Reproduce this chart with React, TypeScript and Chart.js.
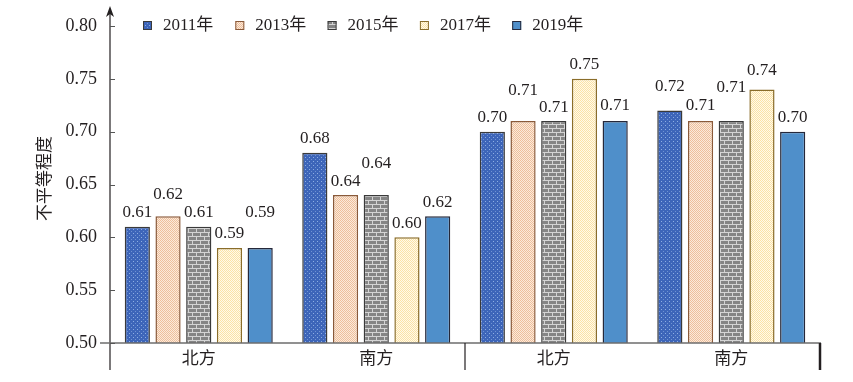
import React, { useEffect, useRef } from "react";
import { Chart, registerables } from "chart.js";

Chart.register(...registerables);

const categories = ["北方", "南方", "北方", "南方"];
const seriesNames = ["2011年", "2013年", "2015年", "2017年", "2019年"];
const v2011 = [0.61, 0.68, 0.7, 0.72];
const v2013 = [0.62, 0.64, 0.71, 0.71];
const v2015 = [0.61, 0.64, 0.71, 0.71];
const v2017 = [0.59, 0.6, 0.75, 0.74];
const v2019 = [0.59, 0.62, 0.71, 0.7];
const yTicks = [0.5, 0.55, 0.6, 0.65, 0.7, 0.75, 0.8];
const yTitle = "不平等程度";

// extra lift (px) of each value label, to mimic staggered labels of the original
const lift2011 = [0, 0, 0, 10];
const lift2013 = [8, 0, 17, 2];
const lift2015 = [0, 18, 0, 20];
const lift2017 = [0, 0, 0, 5];
const lift2019 = [21, 0, 2, 0];

const FONT = "'Liberation Serif', 'Noto Sans CJK SC', serif";
const TEXT = "#231f20";

function makePattern(kind: number): CanvasPattern | string {
  const c = document.createElement("canvas");
  const g = c.getContext("2d")!;
  if (kind === 0) {
    c.width = 4; c.height = 4;
    g.fillStyle = "#3d65b9"; g.fillRect(0, 0, 4, 4);
    g.fillStyle = "#8eaee2"; g.fillRect(1, 1, 1, 1);
    g.fillStyle = "#6f92d2"; g.fillRect(3, 3, 1, 1);
  } else if (kind === 1) {
    c.width = 2; c.height = 2;
    g.fillStyle = "#fbeadb"; g.fillRect(0, 0, 2, 2);
    g.fillStyle = "#eebf9c"; g.fillRect(0, 0, 1, 1); g.fillRect(1, 1, 1, 1);
  } else if (kind === 2) {
    c.width = 8; c.height = 8;
    g.fillStyle = "#858585"; g.fillRect(0, 0, 8, 8);
    g.fillStyle = "#d4d4d4";
    g.fillRect(0, 0, 8, 1); g.fillRect(0, 4, 8, 1);
    g.fillRect(0, 0, 1, 4); g.fillRect(4, 4, 1, 4);
  } else if (kind === 3) {
    c.width = 2; c.height = 2;
    g.fillStyle = "#fffaea"; g.fillRect(0, 0, 2, 2);
    g.fillStyle = "#fbe2a6"; g.fillRect(0, 0, 1, 1); g.fillRect(1, 1, 1, 1);
  } else {
    return "#4f8fca";
  }
  return g.createPattern(c, "repeat")!;
}

const borderColors = ["#3a3a3a", "#8a5a3a", "#3a3a3a", "#8a6d2a", "#25283a"];

export default function App() {
  const ref = useRef<HTMLCanvasElement>(null);
  useEffect(() => {
    const canvas = ref.current!;
    const values = [v2011, v2013, v2015, v2017, v2019];
    const lifts = [lift2011, lift2013, lift2015, lift2017, lift2019];
    const fills = [0, 1, 2, 3, 4].map(makePattern);

    const decor = {
      id: "decor",
      afterDatasetsDraw(chart: any) {
        const ctx = chart.ctx as CanvasRenderingContext2D;
        const area = chart.chartArea;
        const ys = chart.scales.y;
        ctx.save();
        // value labels
        ctx.font = `17px ${FONT}`;
        ctx.fillStyle = TEXT;
        ctx.textAlign = "center";
        ctx.textBaseline = "middle";
        chart.data.datasets.forEach((ds: any, di: number) => {
          const meta = chart.getDatasetMeta(di);
          meta.data.forEach((el: any, i: number) => {
            const v = ds.data[i] as number;
            ctx.fillText(v.toFixed(2), el.x, el.y - 14 - lifts[di][i]);
          });
        });
        // axes
        ctx.strokeStyle = "#231f20";
        ctx.lineWidth = 1.2;
        ctx.beginPath();
        ctx.moveTo(area.left, 12);
        ctx.lineTo(area.left, 370);
        ctx.stroke();
        ctx.fillStyle = "#231f20";
        ctx.beginPath();
        ctx.moveTo(area.left, 6);
        ctx.lineTo(area.left - 4, 17);
        ctx.lineTo(area.left, 14);
        ctx.lineTo(area.left + 4, 17);
        ctx.closePath();
        ctx.fill();
        ctx.strokeStyle = "#6d6d6d";
        ctx.lineWidth = 1.5;
        ctx.beginPath();
        ctx.moveTo(area.left - 10, area.bottom);
        ctx.lineTo(area.right + 1, area.bottom);
        ctx.stroke();
        ctx.lineWidth = 1;
        ctx.strokeStyle = "#555";
        yTicks.forEach((t) => {
          const y = Math.round(ys.getPixelForValue(t)) + 0.5;
          ctx.beginPath();
          ctx.moveTo(area.left, y);
          ctx.lineTo(area.left + 5, y);
          ctx.stroke();
        });
        const mid = (area.left + area.right) / 2;
        ctx.strokeStyle = "#231f20";
        ctx.lineWidth = 1.2;
        ctx.beginPath();
        ctx.moveTo(mid, area.bottom);
        ctx.lineTo(mid, 370);
        ctx.stroke();
        ctx.lineWidth = 2.5;
        ctx.beginPath();
        ctx.moveTo(area.right, area.bottom);
        ctx.lineTo(area.right, 370);
        ctx.stroke();
        // y title
        ctx.save();
        ctx.translate(46, (area.top + area.bottom) / 2 - 6);
        ctx.rotate(-Math.PI / 2);
        ctx.font = `17px ${FONT}`;
        ctx.fillStyle = TEXT;
        ctx.textAlign = "center";
        ctx.textBaseline = "middle";
        ctx.fillText(yTitle, 0, 0);
        ctx.restore();
        // legend
        ctx.font = `17px ${FONT}`;
        ctx.textAlign = "left";
        ctx.textBaseline = "middle";
        seriesNames.forEach((name, i) => {
          const x = 143 + i * 92.3;
          const y = 21;
          ctx.fillStyle = fills[i] as any;
          ctx.fillRect(x, y, 9, 9);
          ctx.strokeStyle = borderColors[i];
          ctx.lineWidth = 1;
          ctx.strokeRect(x + 0.5, y + 0.5, 8, 8);
          ctx.fillStyle = TEXT;
          ctx.fillText(name, x + 20, y + 5);
        });
        ctx.restore();
      },
    };

    const chart = new Chart(canvas, {
      type: "bar",
      data: {
        labels: categories,
        datasets: seriesNames.map((name, i) => ({
          label: name,
          data: values[i],
          backgroundColor: fills[i] as any,
          borderColor: borderColors[i],
          borderWidth: 1.5,
          borderSkipped: "bottom",
          categoryPercentage: 0.865,
          barPercentage: 0.82,
        })),
      },
      options: {
        responsive: false,
        animation: false,
        layout: { padding: { top: 26, right: 33, left: 0, bottom: 0 } },
        plugins: {
          legend: { display: false },
          tooltip: { enabled: false },
        },
        scales: {
          x: {
            grid: { display: false, drawTicks: false },
            border: { display: false },
            ticks: { font: { family: FONT, size: 17 }, color: TEXT, padding: 6 },
            afterFit: (s: any) => { s.height = 39; },
          },
          y: {
            min: 0.5,
            max: 0.8,
            grid: { display: false, drawTicks: false },
            border: { display: false },
            ticks: {
              stepSize: 0.05,
              padding: 13,
              font: { family: FONT, size: 18 },
              color: TEXT,
              callback: (v: any) => Number(v).toFixed(2),
            },
            afterFit: (s: any) => { s.width = 110; },
          },
        },
      },
      plugins: [decor],
    });
    return () => chart.destroy();
  }, []);
  return (
    <div style={{ position: "fixed", left: 0, top: 0, width: 853, height: 382, background: "#fff" }}>
      <canvas ref={ref} width={853} height={382} style={{ display: "block" }} />
    </div>
  );
}
